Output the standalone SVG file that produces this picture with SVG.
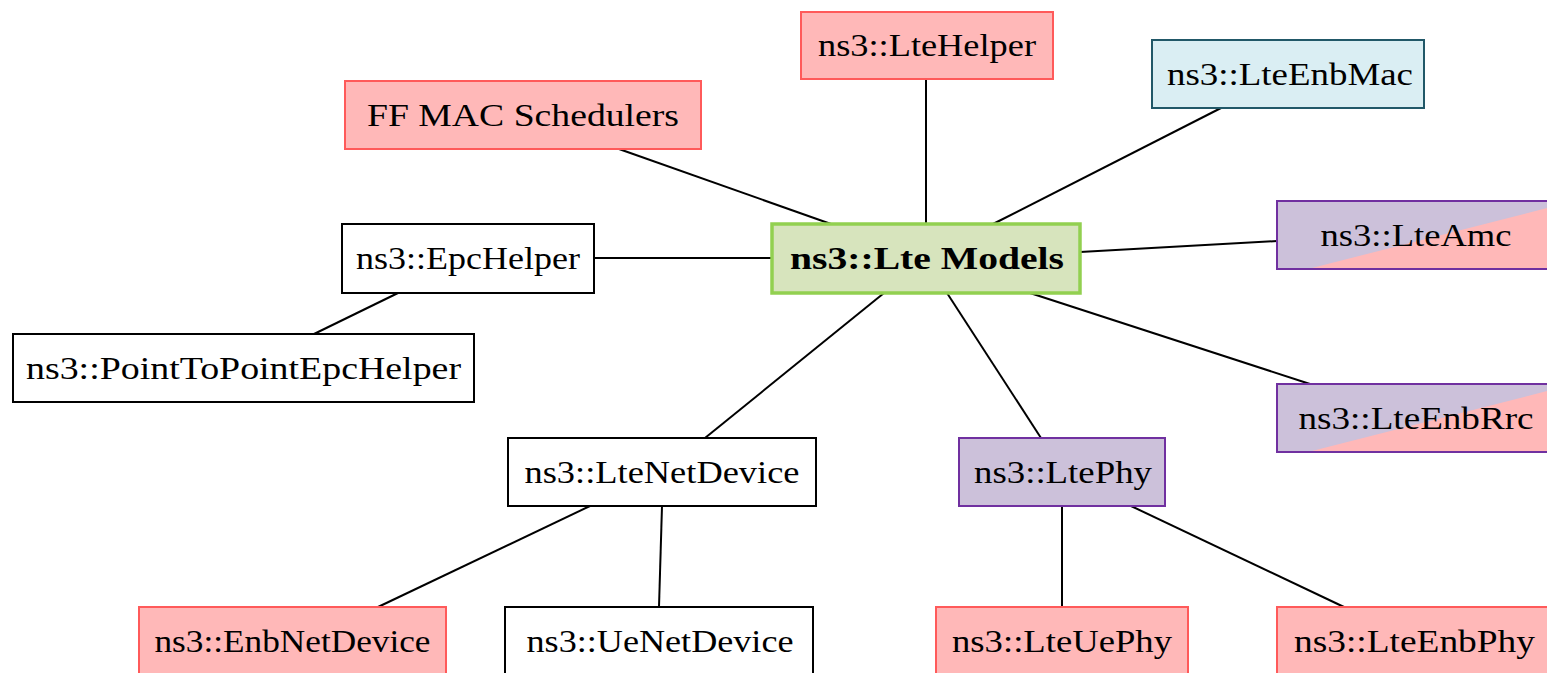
<svg xmlns="http://www.w3.org/2000/svg" width="1547" height="673" viewBox="0 0 1547 673">
<style>
text{font-size:32px;fill:#000;text-anchor:middle}
.b{font-weight:bold}
.red{fill:#ffb8b8;stroke:#ff5a5a;stroke-width:2}
.blue{fill:#daeef3;stroke:#215868;stroke-width:2}
.pur{fill:#ccc1da;stroke:#7030a0;stroke-width:2}
.wht{fill:#fff;stroke:#000;stroke-width:2}
.grn{fill:#d7e4bd;stroke:#92d050;stroke-width:3.5}
.pk{fill:#ffb8b8;stroke:none}
.edge line{stroke:#000;stroke-width:2}
</style>
<rect width="1547" height="673" fill="#fff"/>
<g class="edge" id="connectors">
<line x1="619" y1="149" x2="831" y2="224"/>
<line x1="926" y1="79" x2="926" y2="224"/>
<line x1="1221" y1="108" x2="993" y2="224"/>
<line x1="1277" y1="241" x2="1080" y2="252"/>
<line x1="594" y1="258" x2="772" y2="258"/>
<line x1="398" y1="293" x2="314" y2="334"/>
<line x1="884" y1="293" x2="705" y2="438"/>
<line x1="947" y1="293" x2="1041" y2="438"/>
<line x1="1030" y1="293" x2="1310" y2="384"/>
<line x1="590" y1="506" x2="378" y2="607"/>
<line x1="662" y1="506" x2="659" y2="607"/>
<line x1="1062" y1="506" x2="1062" y2="607"/>
<line x1="1131" y1="506" x2="1344" y2="607"/>
</g>
<g font-family="'Liberation Serif', 'Times New Roman', serif">
<g id="n-ltehelper"><rect class="red" x="801" y="12" width="252" height="67"/><text x="927" y="56" textLength="218" lengthAdjust="spacingAndGlyphs">ns3::LteHelper</text></g>
<g id="n-lteenbmac"><rect class="blue" x="1152" y="40" width="272" height="68"/><text x="1290" y="85" textLength="246" lengthAdjust="spacingAndGlyphs">ns3::LteEnbMac</text></g>
<g id="n-ffmac"><rect class="red" x="345" y="81" width="356" height="68"/><text x="523" y="126" textLength="312" lengthAdjust="spacingAndGlyphs">FF MAC Schedulers</text></g>
<g id="n-lteamc"><rect class="pur" x="1277" y="201" width="278" height="68" style="stroke:none"/><polygon class="pk" points="1308,269 1555,269 1555,206"/><rect class="pur" x="1277" y="201" width="278" height="68" style="fill:none"/><text x="1416" y="246" textLength="191" lengthAdjust="spacingAndGlyphs">ns3::LteAmc</text></g>
<g id="n-epchelper"><rect class="wht" x="342" y="224" width="252" height="69"/><text x="468" y="269" textLength="224" lengthAdjust="spacingAndGlyphs">ns3::EpcHelper</text></g>
<g id="n-ltemodels"><rect class="grn" x="772" y="224" width="308" height="69"/><text class="b" x="927" y="269" textLength="274" lengthAdjust="spacingAndGlyphs">ns3::Lte Models</text></g>
<g id="n-p2p"><rect class="wht" x="13" y="334" width="461" height="68"/><text x="243.5" y="379" textLength="435" lengthAdjust="spacingAndGlyphs">ns3::PointToPointEpcHelper</text></g>
<g id="n-lteenbrrc"><rect class="pur" x="1277" y="384" width="278" height="68" style="stroke:none"/><polygon class="pk" points="1308,452 1555,452 1555,389"/><rect class="pur" x="1277" y="384" width="278" height="68" style="fill:none"/><text x="1416" y="429" textLength="235" lengthAdjust="spacingAndGlyphs">ns3::LteEnbRrc</text></g>
<g id="n-ltenetdevice"><rect class="wht" x="508" y="438" width="308" height="68"/><text x="662" y="483" textLength="275" lengthAdjust="spacingAndGlyphs">ns3::LteNetDevice</text></g>
<g id="n-ltephy"><rect class="pur" x="959" y="438" width="206" height="68"/><text x="1063" y="483" textLength="178" lengthAdjust="spacingAndGlyphs">ns3::LtePhy</text></g>
<g id="n-enbnetdevice"><rect class="red" x="139" y="607" width="307" height="70"/><text x="292.5" y="652" textLength="276" lengthAdjust="spacingAndGlyphs">ns3::EnbNetDevice</text></g>
<g id="n-uenetdevice"><rect class="wht" x="505" y="607" width="308" height="70"/><text x="660" y="652" textLength="267" lengthAdjust="spacingAndGlyphs">ns3::UeNetDevice</text></g>
<g id="n-lteuephy"><rect class="red" x="936" y="607" width="252" height="70"/><text x="1062" y="652" textLength="220" lengthAdjust="spacingAndGlyphs">ns3::LteUePhy</text></g>
<g id="n-lteenbphy"><rect class="red" x="1277" y="607" width="278" height="70"/><text x="1414.5" y="652" textLength="241" lengthAdjust="spacingAndGlyphs">ns3::LteEnbPhy</text></g>
</g>
</svg>
